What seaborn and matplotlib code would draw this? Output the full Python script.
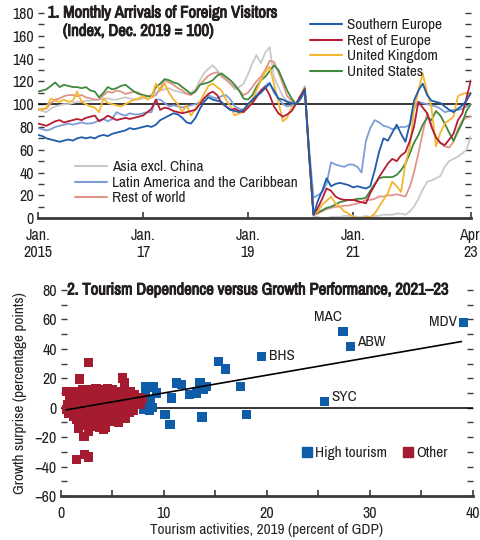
import numpy as np
import pandas as pd
import matplotlib
matplotlib.use("Agg")
import matplotlib.pyplot as plt
import matplotlib.patheffects as pe
from matplotlib.lines import Line2D
from matplotlib.ticker import MultipleLocator
import seaborn as sns

# Panel 1: monthly arrivals, Jan 2015 - Apr 2023 (index, Dec 2019 = 100)
months = pd.date_range("2015-01-01", "2023-04-01", freq="MS")

southern_europe = [73, 72, 70, 69, 68, 67, 68, 69, 68, 70, 71, 70,
                   71, 70, 72, 73, 72, 74, 75, 76, 77, 79, 78, 79,
                   80, 81, 80, 82, 86, 88, 90, 92, 91, 88, 84, 83,
                   88, 96, 102, 106, 104, 103, 102, 98, 95, 94, 93, 95,
                   100, 104, 107, 110, 114, 118, 112, 105, 104, 102, 101, 100,
                   105, 112, 57, 3, 15, 24, 35, 28, 30, 31, 30, 29,
                   27, 28, 27, 26, 28, 42, 58, 70, 68, 75, 82, 74,
                   67, 83, 103, 112, 118, 108, 103, 102, 101, 98, 95, 93,
                   96, 99, 103, 110]
rest_of_europe = [83, 82, 81, 83, 85, 86, 84, 85, 86, 87, 86, 88,
                  89, 90, 85, 87, 90, 88, 86, 87, 88, 87, 88, 89,
                  90, 93, 96, 104, 95, 97, 96, 94, 93, 92, 93, 94,
                  95, 100, 105, 109, 111, 108, 101, 98, 95, 96, 94, 93,
                  97, 101, 106, 112, 115, 108, 98, 92, 89, 91, 94, 100,
                  107, 113, 57, 3, 9, 17, 26, 24, 19, 17, 16, 16,
                  16, 15, 14, 13, 22, 29, 36, 42, 48, 52, 50, 55,
                  58, 68, 80, 102, 97, 92, 80, 71, 66, 64, 69, 74,
                  86, 92, 105, 121]
united_kingdom = [96, 95, 97, 105, 103, 102, 104, 102, 103, 111, 102, 100,
                  98, 97, 93, 105, 101, 100, 99, 98, 100, 102, 104, 105,
                  107, 104, 106, 118, 112, 118, 110, 104, 100, 93, 99, 90,
                  96, 102, 109, 116, 118, 115, 112, 104, 98, 90, 92, 93,
                  98, 104, 112, 121, 128, 133, 118, 102, 85, 88, 97, 100,
                  106, 112, 57, 3, 6, 12, 15, 19, 13, 10, 6, 4,
                  1, 0, 0, 1, 1, 4, 10, 16, 22, 32, 28, 23,
                  48, 63, 95, 112, 127, 110, 97, 63, 75, 83, 86, 89,
                  107, 109, 110, 108]
united_states = [111, 112, 113, 116, 119, 115, 117, 116, 115, 115, 114, 115,
                 112, 111, 106, 110, 115, 113, 114, 116, 117, 114, 111, 109,
                 108, 107, 107, 115, 118, 122, 121, 119, 118, 115, 112, 109,
                 111, 117, 118, 119, 121, 125, 127, 124, 121, 117, 112, 105,
                 104, 108, 115, 121, 124, 129, 134, 130, 121, 112, 105, 100,
                 106, 114, 57, 3, 5, 7, 9, 10, 12, 14, 15, 16,
                 16, 17, 17, 18, 24, 30, 35, 36, 36, 36, 38, 42,
                 48, 57, 66, 73, 82, 88, 86, 94, 90, 83, 75, 68,
                 76, 84, 94, 100]
asia_excl_china = [95, 94, 93, 96, 98, 99, 100, 100, 101, 102, 102, 103,
                   103, 104, 104, 105, 105, 104, 104, 105, 106, 105, 104, 104,
                   105, 107, 108, 110, 112, 113, 114, 112, 111, 110, 109, 110,
                   113, 121, 127, 131, 134, 130, 124, 121, 118, 113, 115, 118,
                   126, 136, 143, 136, 145, 150, 124, 115, 107, 103, 101, 100,
                   108, 116, 58, 2, 1, 0, 0, 1, 1, 1, 2, 2,
                   2, 1, 1, 2, 1, 2, 2, 3, 3, 3, 4, 4,
                   3, 6, 10, 17, 25, 32, 33, 35, 37, 45, 50, 52,
                   54, 57, 60, 72]
latin_america = [79, 78, 77, 78, 80, 81, 82, 83, 82, 83, 84, 83,
                 83, 84, 86, 87, 85, 87, 93, 91, 90, 92, 91, 91,
                 92, 93, 93, 104, 104, 101, 98, 99, 98, 97, 98, 99,
                 100, 102, 105, 108, 106, 105, 107, 108, 104, 98, 96, 95,
                 97, 103, 108, 112, 116, 119, 110, 105, 100, 98, 99, 100,
                 104, 111, 62, 18, 20, 23, 30, 49, 47, 46, 45, 47,
                 47, 45, 40, 68, 79, 86, 84, 81, 80, 78, 79, 80,
                 80, 82, 96, 102, 101, 100, 99, 98, 96, 93, 94, 95,
                 95, 96, 98, 100]
rest_of_world = [95, 96, 96, 101, 104, 105, 107, 108, 108, 107, 108, 106,
                 105, 104, 104, 108, 111, 110, 112, 111, 109, 110, 111, 110,
                 108, 107, 106, 108, 114, 121, 119, 117, 114, 112, 109, 108,
                 112, 117, 121, 125, 127, 128, 125, 122, 118, 115, 112, 108,
                 110, 115, 120, 124, 130, 138, 137, 128, 118, 107, 103, 100,
                 107, 114, 57, 3, 4, 6, 8, 9, 10, 10, 11, 11,
                 12, 13, 14, 16, 16, 17, 19, 19, 20, 20, 21, 20,
                 19, 28, 40, 57, 75, 92, 82, 70, 66, 63, 62, 67,
                 78, 86, 88, 89]

series_names = ["Asia excl. China", "Rest of world", "Latin America and the Caribbean",
                "United States", "United Kingdom", "Rest of Europe", "Southern Europe"]
series_values = [asia_excl_china, rest_of_world, latin_america,
                 united_states, united_kingdom, rest_of_europe, southern_europe]
series_colors = ["#c9c9c9", "#e0958a", "#7f9dd8", "#3f8a3c", "#f5b630", "#b51d33", "#1f5caa"]

# Panel 2: tourism dependence vs growth surprise
high_x = [8.0, 8.3, 8.6, 8.2, 8.7, 8.2, 9.0, 8.9, 9.3, 10.1, 10.6, 10.7, 11.2, 11.7,
          12.5, 13.2, 13.8, 13.5, 14.1, 13.7, 15.3, 16.0, 17.4, 18.0, 19.5, 25.6,
          27.4, 28.1, 39.1]
high_y = [-1.4, 1.0, -1.5, 8.8, 5.4, 14.0, 14.0, 0.0, 10.0, -4.8, -11.6, 6.6, 16.8, 15.6,
          8.8, 10.0, 12.2, 16.8, 14.5, -6.3, 31.5, 26.3, 14.5, -4.8, 35.0, 4.3,
          52.0, 41.7, 58.0]
other_x = [0.5, 0.6, 0.7, 0.8, 0.9, 1.0, 1.0, 1.1, 1.2, 1.3, 1.3, 1.4, 1.5, 1.5, 1.6, 1.7,
           1.7, 1.8, 1.8, 1.9, 2.0, 2.0, 2.1, 2.1, 2.2, 2.2, 2.3, 2.3, 2.4, 2.5, 2.5, 2.6,
           2.7, 2.7, 2.7, 2.8, 2.9, 3.0, 3.0, 3.1, 3.2, 3.2, 3.3, 3.4, 3.4, 3.5, 3.6, 3.6,
           3.7, 3.8, 3.8, 3.9, 4.0, 4.0, 4.1, 4.1, 4.2, 4.3, 4.3, 4.4, 4.5, 4.5, 4.6, 4.7,
           4.8, 4.9, 5.0, 5.0, 5.1, 5.2, 5.3, 5.4, 5.5, 5.5, 5.6, 5.7, 5.8, 5.9, 6.0, 6.0,
           6.1, 6.2, 6.2, 6.3, 6.4, 6.5, 6.6, 6.7, 6.8, 6.9, 7.0, 7.1, 7.3, 7.5, 7.7, 7.9,
           1.5, 2.3, 2.7, 2.3, 0.55, 1.2, 2.0, 3.5, 4.8, 5.2]
other_y = [-1, 2, -4, 5, 0, -2, 8, 3, -6, 1, 11, -3, 6, -8, 0, 4,
           -13.8, 19.5, -5, 9, 2, -10, -2, 12, -19.5, 6, -7, 0, 10, -4, 3, -12,
           30.8, -16, 7, -1, 12, -8, 4, 1, -5, 9, -11, 13, -2, 5, -13, 0,
           10, -7, -13.7, 3, 12, -4, -15, 7, -1, -13.7, 10, 2, -6, 13, 5, -9,
           0, 9, -3, 12, 4, -8, 7, -1, 11, -5, -10.3, 2, 8, -4, 20.2, 5,
           -1, 16.8, 10, -7, 3, 7, -3, 11, 1, 5, -2, 9, 4, 7, 2, 6,
           -35.4, -32, -33.5, -19.5, 11, 4, 6, 8, -5, 2]
labeled = {"MAC": (27.4, 52.0), "ABW": (28.1, 41.7), "MDV": (39.1, 58.0),
           "BHS": (19.5, 35.0), "SYC": (25.6, 4.3)}
fit_slope, fit_intercept = 1.21, -2.1
fit_x = [0.5, 38.9]

BLUE = "#0f5ca9"
RED = "#a51c30"
SPINE = "#3a3a3a"
TXT = "#231f20"
FS = 11          # legends, labels
FS_TICK = 11.5   # tick labels
FS_TITLE = 12    # panel titles

sns.set_style("white")
plt.rcParams["font.family"] = ["Archivo Narrow", "DejaVu Sans"]
plt.rcParams["font.size"] = FS
plt.rcParams["text.color"] = TXT
plt.rcParams["xtick.color"] = SPINE
plt.rcParams["ytick.color"] = SPINE
plt.rcParams["xtick.labelcolor"] = TXT
plt.rcParams["ytick.labelcolor"] = TXT
bold = [pe.withStroke(linewidth=0.7, foreground=TXT)]

fig = plt.figure(figsize=(4.8, 5.4), dpi=100)
ax1 = fig.add_axes([0.079, 0.596, 0.902, 0.380])
ax2 = fig.add_axes([0.127, 0.0815, 0.858, 0.3815])

# ---- panel 1
df = pd.DataFrame({"month": np.tile(months, len(series_names)),
                   "series": np.repeat(series_names, len(months)),
                   "value": np.concatenate(series_values)})
ax1.axhline(100, color="black", lw=1.1, zorder=1)
sns.lineplot(data=df, x="month", y="value", hue="series", hue_order=series_names,
             palette=series_colors, lw=1.3, legend=False, ax=ax1, zorder=2)
ax1.set_xlim(months[0], months[-1])
ax1.set_ylim(0, 180)
ax1.set_xlabel("")
ax1.set_ylabel("")
tick_dates = pd.to_datetime(["2015-01-01", "2017-01-01", "2019-01-01", "2021-01-01", "2023-04-01"])
ax1.set_xticks(tick_dates)
ax1.set_xticklabels(["Jan.\n2015", "Jan.\n17", "Jan.\n19", "Jan.\n21", "Apr.\n23"])
ax1.yaxis.set_major_locator(MultipleLocator(20))
ax1.yaxis.set_minor_locator(MultipleLocator(10))

fig.text(0.100, 0.976, "1. Monthly Arrivals of Foreign Visitors", fontsize=FS_TITLE,
         va="center", ha="left", path_effects=bold)
fig.text(0.131, 0.942, "(Index, Dec. 2019 = 100)", fontsize=FS_TITLE,
         va="center", ha="left", path_effects=bold)

top_names = ["Southern Europe", "Rest of Europe", "United Kingdom", "United States"]
bottom_names = ["Asia excl. China", "Latin America and the Caribbean", "Rest of world"]
cmap = dict(zip(series_names, series_colors))
h_top = [Line2D([], [], color=cmap[n], lw=1.5) for n in top_names]
h_bot = [Line2D([], [], color=cmap[n], lw=1.5) for n in bottom_names]
leg1 = ax1.legend(h_top, top_names, loc="upper left", bbox_to_anchor=(0.646, 0.966),
                  bbox_transform=fig.transFigure, frameon=False, fontsize=FS,
                  handlelength=2.1, handletextpad=0.3, labelspacing=0.1,
                  borderpad=0, borderaxespad=0)
ax1.add_artist(leg1)
ax1.legend(h_bot, bottom_names, loc="upper left", bbox_to_anchor=(0.156, 0.703),
           bbox_transform=fig.transFigure, frameon=False, fontsize=FS,
           handlelength=2.1, handletextpad=0.3, labelspacing=0.1,
           borderpad=0, borderaxespad=0)

# ---- panel 2
ax2.axhline(0, color="black", lw=1.1, zorder=1)
pts = pd.DataFrame({"x": high_x + other_x, "y": high_y + other_y,
                    "group": ["High tourism"] * len(high_x) + ["Other"] * len(other_x)})
sns.scatterplot(data=pts, x="x", y="y", hue="group", hue_order=["High tourism", "Other"],
                palette=[BLUE, RED], marker="s", s=44, linewidth=0, legend=False,
                ax=ax2, zorder=3)
fx = np.array(fit_x)
ax2.plot(fx, fit_slope * fx + fit_intercept, color="black", lw=1.2, zorder=4)
offsets = {"MAC": (-11, 10, "center"), "ABW": (5, 3, "left"), "MDV": (-5, 0, "right"),
           "BHS": (5, 0, "left"), "SYC": (5, 3, "left")}
for name, (px, py) in labeled.items():
    dx, dy, ha = offsets[name]
    ax2.annotate(name, (px, py), xytext=(dx, dy), textcoords="offset points",
                 ha=ha, va="center", fontsize=FS)
ax2.set_xlim(0, 40)
ax2.set_ylim(-60, 80)
ax2.xaxis.set_major_locator(MultipleLocator(10))
ax2.xaxis.set_minor_locator(MultipleLocator(5))
ax2.yaxis.set_major_locator(MultipleLocator(20))
ax2.yaxis.set_minor_locator(MultipleLocator(10))
ax2.set_xlabel("Tourism activities, 2019 (percent of GDP)", fontsize=FS, labelpad=2)
ax2.set_ylabel("")
fig.text(20 / 480, 0.5 * (0.0815 + 0.463), "Growth surprise (percentage points)",
         rotation=90, ha="center", va="center", fontsize=FS)
fig.text(0.140, 0.463, "2. Tourism Dependence versus Growth Performance, 2021\u201323",
         fontsize=FS_TITLE, va="center", ha="left", path_effects=bold)
sq = dict(marker="s", linestyle="none", markersize=7)
ax2.legend([Line2D([], [], color=BLUE, **sq), Line2D([], [], color=RED, **sq)],
           ["High tourism", "Other"], loc="center left", bbox_to_anchor=(0.628, 0.161),
           bbox_transform=fig.transFigure, frameon=False, fontsize=FS, ncol=2,
           handlelength=0.7, handletextpad=0.2, columnspacing=1.0,
           borderpad=0, borderaxespad=0)

for ax in (ax1, ax2):
    for side in ("top", "left", "right"):
        ax.spines[side].set_visible(False)
    ax.spines["bottom"].set_color(SPINE)
    ax.spines["bottom"].set_linewidth(2)
    ax.tick_params(axis="y", which="both", direction="in", left=True, right=True,
                   labelright=False, length=4, width=1, pad=3, labelsize=FS_TICK)
    ax.tick_params(axis="x", which="both", direction="in", bottom=True, length=4,
                   width=1.2, pad=7, labelsize=FS_TICK)
    ax.grid(False)

fig.savefig("out.png", dpi=100)
